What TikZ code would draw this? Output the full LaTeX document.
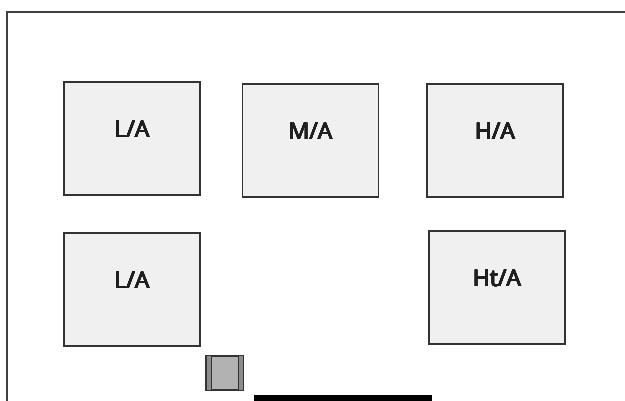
\documentclass[tikz,border=0pt]{standalone}
\usepackage{fontspec}
\setmainfont{Open Sans}
\usepackage[copies]{contour}
\contournumber{16}
\contourlength{0.35pt}
\begin{document}
\begin{tikzpicture}[x=1pt,y=-1pt,
  roombox/.style={draw=black!80,line width=1.4pt,fill=black!6,minimum width=136pt,minimum height=113pt,inner sep=0pt},
  lbl/.style={font=\fontsize{23}{25}\selectfont,text=black!88}]
\useasboundingbox (0,0) rectangle (625,400);
\fill[white] (0,0) rectangle (625,400);
\draw[black!75,line width=1.6pt] (630,12) -- (7,12) -- (7,405);
\node[roombox] (la1) at (132,138.5) {};
\node[roombox] (ma) at (310.5,140.5) {};
\node[roombox] (ha) at (495,140.5) {};
\node[roombox] (la2) at (132,289.5) {};
\node[roombox] (hta) at (497,287.5) {};
\node[lbl] at ([yshift=9pt]la1.center) {\contour{black!88}{L/A}};
\node[lbl] at ([yshift=9pt]ma.center) {\contour{black!88}{M/A}};
\node[lbl] at ([yshift=9pt]ha.center) {\contour{black!88}{H/A}};
\node[lbl] at ([yshift=9pt]la2.center) {\contour{black!88}{L/A}};
\node[lbl] at ([yshift=9pt]hta.center) {\contour{black!88}{Ht/A}};
\node[draw=black!80,line width=1.2pt,fill=black!30,minimum width=36pt,minimum height=34pt,inner sep=0pt] (sq) at (224.5,373) {};
\fill[black!45] (sq.north west) rectangle ([xshift=5pt]sq.south west);
\fill[black!45] ([xshift=-5pt]sq.north east) rectangle (sq.south east);
\draw[black!80,line width=0.8pt] ([xshift=5pt]sq.north west) -- ([xshift=5pt]sq.south west);
\draw[black!80,line width=0.8pt] ([xshift=-5pt]sq.north east) -- ([xshift=-5pt]sq.south east);
\draw[black!80,line width=1.2pt] (sq.north west) rectangle (sq.south east);
\node[fill=black,minimum width=178pt,minimum height=8pt,inner sep=0pt,anchor=north west] (bar) at (254,395) {};
\end{tikzpicture}
\end{document}
